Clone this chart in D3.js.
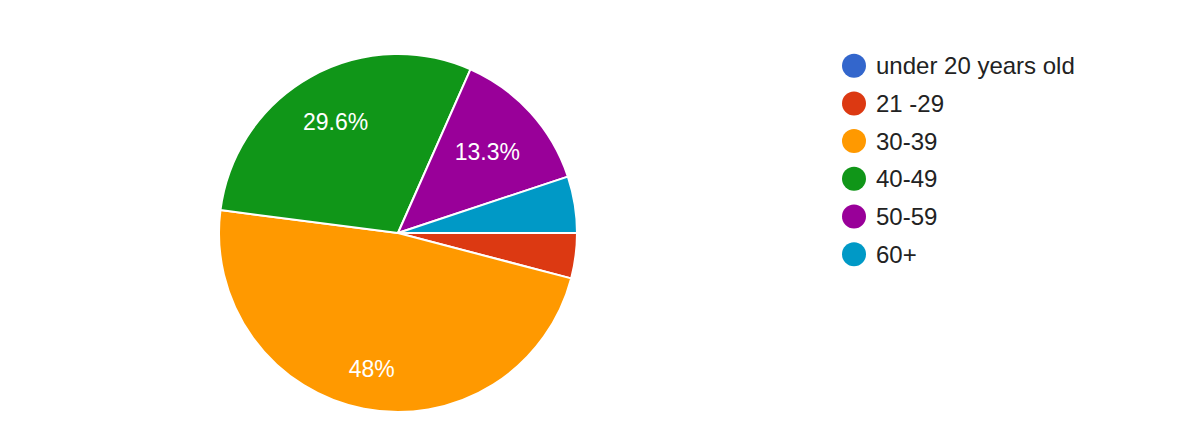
<!DOCTYPE html>
<html><head><meta charset="utf-8">
<script src="https://cdn.jsdelivr.net/npm/d3@7"></script>
<style>html,body{margin:0;padding:0;background:#fff;}svg{display:block;}</style>
</head><body>
<svg id="chart" width="1190" height="442"></svg>
<script>
const categories = ["under 20 years old", "21 -29", "30-39", "40-49", "50-59", "60+"];
const values = [0, 4, 47, 29, 13, 5];
const colors = ["#3366cc", "#dc3912", "#ff9900", "#109618", "#990099", "#0099c6"];

const svg = d3.select("#chart");
const cx = 398, cy = 233, R = 179;
const font = "Arial, 'Liberation Sans', sans-serif";
const labelFs = 23, legendFs = 24;

const total = d3.sum(values);
const data = categories.map((c, i) => ({ cat: c, value: values[i], color: colors[i] }));

// start at 3 o'clock, clockwise
const pie = d3.pie().value(d => d.value).sort(null)
  .startAngle(Math.PI / 2).endAngle(Math.PI / 2 + 2 * Math.PI);
const arcs = pie(data);
const arc = d3.arc().innerRadius(0).outerRadius(R);

const g = svg.append("g").attr("transform", `translate(${cx},${cy})`);
g.selectAll("path.slice").data(arcs.filter(a => a.data.value > 0)).join("path")
  .attr("class", "slice")
  .attr("d", arc)
  .attr("fill", d => d.data.color)
  .attr("stroke", "#fff")
  .attr("stroke-width", 2)
  .attr("stroke-linejoin", "round");

const fmt = v => {
  const p = v / total * 100;
  return (Math.round(p * 10) / 10).toString() + "%";
};

arcs.filter(a => a.data.value / total > 0.1).forEach(a => {
  const mid = (a.startAngle + a.endAngle) / 2;
  const dx = Math.sin(mid), dy = -Math.cos(mid);
  const t = g.append("text")
    .attr("font-family", font).attr("font-size", labelFs)
    .attr("fill", "#fff").attr("text-anchor", "middle")
    .text(fmt(a.data.value));
  const hw = t.node().getComputedTextLength() / 2;
  const hh = labelFs * 0.36;
  const dist = R * 0.84 - (hw * Math.abs(dx) + hh * Math.abs(dy));
  t.attr("x", dx * dist).attr("y", dy * dist + labelFs * 0.358);
});

// legend
const lx = 854, ly0 = 65.7, step = 37.7;
const lg = svg.append("g");
data.forEach((d, i) => {
  const y = ly0 + i * step;
  lg.append("circle").attr("cx", lx).attr("cy", y).attr("r", 12).attr("fill", d.color);
  lg.append("text").attr("x", 876).attr("y", y + legendFs * 0.35)
    .attr("font-family", font).attr("font-size", legendFs).attr("fill", "#222222")
    .text(d.cat);
});
</script>
</body></html>
